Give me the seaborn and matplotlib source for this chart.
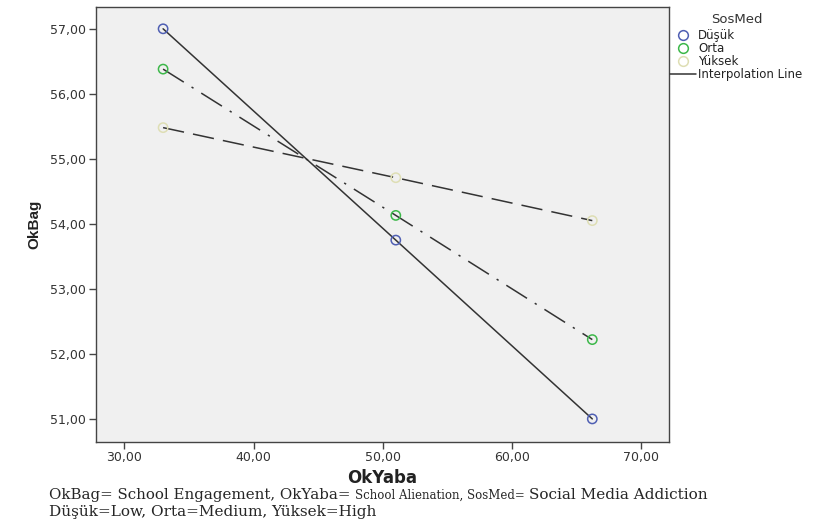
import pandas as pd
import matplotlib
matplotlib.use("Agg")
import matplotlib.pyplot as plt
import seaborn as sns
from matplotlib.lines import Line2D

# data
okyaba = [33.0, 51.0, 66.2]
dusuk = [57.00, 53.75, 51.00]
orta = [56.38, 54.13, 52.22]
yuksek = [55.48, 54.71, 54.05]
levels = ["Düşük", "Orta", "Yüksek"]
marker_colors = ["#4f5fb3", "#3db84a", "#dedeb4"]
xticks = [30, 40, 50, 60, 70]
yticks = [51, 52, 53, 54, 55, 56, 57]

df = pd.DataFrame({
    "OkYaba": okyaba * 3,
    "OkBag": dusuk + orta + yuksek,
    "SosMed": [lv for lv in levels for _ in okyaba],
})

sns.set_style("white")
plt.rcParams["font.family"] = ["DejaVu Sans"]

fig = plt.figure(figsize=(8.19, 5.23), dpi=100)
ax = fig.add_axes([0.1169, 0.1555, 0.6999, 0.8317])
ax.set_facecolor("#f0f0f0")

# interpolation lines (dark, different dash styles)
dash_map = {"Düşük": "", "Orta": (16, 6, 1.5, 6), "Yüksek": (14, 6)}
sns.lineplot(data=df, x="OkYaba", y="OkBag", style="SosMed", style_order=levels,
             dashes=dash_map, color="#333333", linewidth=1.1, legend=False,
             sort=False, ax=ax)

# hollow coloured markers
for lv, c in zip(levels, marker_colors):
    sub = df[df["SosMed"] == lv]
    sns.scatterplot(data=sub, x="OkYaba", y="OkBag", marker="o", s=45,
                    facecolors="none", edgecolors=c, linewidths=1.1,
                    legend=False, ax=ax, zorder=3)

ax.set_xlim(27.79, 72.13)
ax.set_ylim(50.65, 57.34)
ax.set_xticks(xticks)
ax.set_yticks(yticks)
ax.set_xticklabels([f"{v:.2f}".replace(".", ",") for v in xticks], fontsize=9, color="#333333")
ax.set_yticklabels([f"{v:.2f}".replace(".", ",") for v in yticks], fontsize=9, color="#333333")
ax.tick_params(axis="both", direction="out", length=5, width=1, color="#444444",
               bottom=True, left=True, pad=2)
for sp in ax.spines.values():
    sp.set_color("#444444")
    sp.set_linewidth(1.0)
ax.set_xlabel("OkYaba", fontsize=12, fontweight="bold", labelpad=3, color="#222222")
ax.set_ylabel("OkBag", fontsize=11, fontweight="bold", labelpad=6,
              family=["Liberation Sans", "DejaVu Sans"], color="#222222")

# legend
fig.text(0.9, 0.9618, "SosMed", fontsize=9.5, ha="center", va="center", color="#333333")
handles = [Line2D([], [], marker="o", linestyle="none", markersize=7,
                  markerfacecolor="none", markeredgecolor=c, markeredgewidth=1.1)
           for c in marker_colors]
handles.append(Line2D([], [], color="#333333", linewidth=1.1))
leg = fig.legend(handles, levels + ["Interpolation Line"],
                 loc="upper left", bbox_to_anchor=(0.818, 0.9447), frameon=False,
                 fontsize=8.5, handlelength=2.2, handletextpad=0.2,
                 labelspacing=0.0, borderaxespad=0, borderpad=0)
for t in leg.get_texts():
    t.set_color("#222222")

# caption
serif = ["DejaVu Serif"]
base1 = 1 - 499 / 523
base2 = 1 - 516 / 523
t1 = fig.text(0.06, base1, "OkBag= School Engagement, OkYaba= ",
              fontsize=10.8, family=serif, va="baseline")
t2 = fig.text(0, base1, "School Alienation, SosMed= ", fontsize=8.5, family=serif,
              va="baseline")
t3 = fig.text(0, base1, "Social Media Addiction", fontsize=11, family=serif,
              va="baseline")
fig.canvas.draw()
r = fig.canvas.get_renderer()
b1 = t1.get_window_extent(r).transformed(fig.transFigure.inverted())
t2.set_position((b1.x1, base1))
b2 = t2.get_window_extent(r).transformed(fig.transFigure.inverted())
t3.set_position((b2.x1, base1))
fig.text(0.06, base2, "Düşük=Low, Orta=Medium, Yüksek=High",
         fontsize=11, family=serif, va="baseline")

fig.savefig("out.png", dpi=100, facecolor="white")
